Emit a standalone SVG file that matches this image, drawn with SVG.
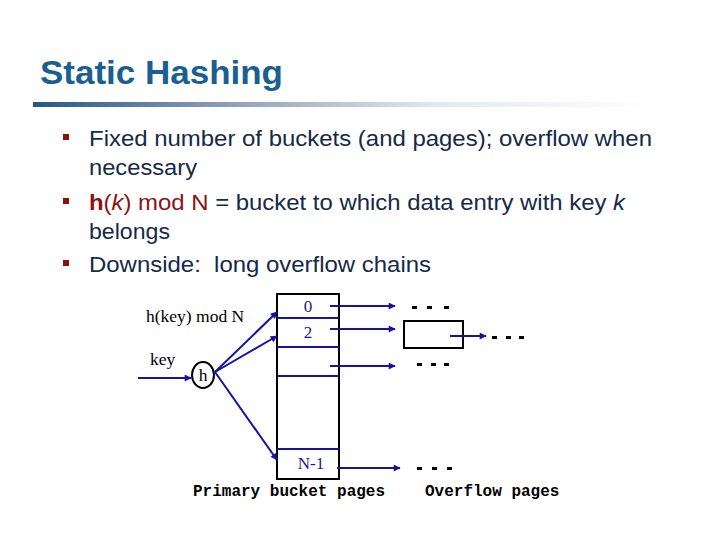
<svg xmlns="http://www.w3.org/2000/svg" width="720" height="540" viewBox="0 0 720 540">
<defs>
<linearGradient id="bar" x1="0" y1="0" x2="1" y2="0">
<stop offset="0" stop-color="#22588a"/>
<stop offset="0.3" stop-color="#8a9cb5"/>
<stop offset="0.65" stop-color="#e4e8ee"/>
<stop offset="1" stop-color="#ffffff"/>
</linearGradient>
<marker id="ah" viewBox="0 0 10 10" refX="9" refY="5" markerWidth="8" markerHeight="7" markerUnits="userSpaceOnUse" orient="auto">
<path d="M0,0 L10,5 L0,10 z" fill="#1414a0"/>
</marker>
<style>
.title{font-family:"Liberation Sans",Arial,sans-serif;font-weight:bold;font-size:34px;fill:#1a5f8f}
.body{font-family:"Liberation Sans",Arial,sans-serif;font-size:22.5px;fill:#15294a}
.red{fill:#8b1414}
.bul{fill:#8b1010}
.ser{font-family:"Liberation Serif","Times New Roman",serif;font-size:17.5px;fill:#000}
.num{font-family:"Liberation Serif","Times New Roman",serif;font-size:17px;fill:#1a1a8c}
.mono{font-family:"Liberation Mono","Courier New",monospace;font-size:16px;font-weight:bold;fill:#000}
.box{fill:none;stroke:#000;stroke-width:2}
.div{stroke:#1414a0;stroke-width:2}
.arr{stroke:#1414a0;stroke-width:2;fill:none;marker-end:url(#ah)}
.dot{fill:#000}
</style>
</defs>
<rect width="720" height="540" fill="#fff"/>
<text class="title" x="40" y="84" textLength="243" lengthAdjust="spacingAndGlyphs">Static Hashing</text>
<rect x="33" y="102" width="620" height="5" fill="url(#bar)"/>
<g id="bullets">
<rect class="bul" x="63" y="134" width="6" height="6"/>
<text class="body" x="89" y="146" textLength="563" lengthAdjust="spacingAndGlyphs">Fixed number of buckets (and pages); overflow when</text>
<text class="body" x="89" y="175" textLength="108" lengthAdjust="spacingAndGlyphs">necessary</text>
<rect class="bul" x="63" y="198" width="6" height="6"/>
<text class="body" x="89" y="210" textLength="536" lengthAdjust="spacingAndGlyphs"><tspan class="red" font-weight="bold">h</tspan><tspan class="red">(</tspan><tspan class="red" font-style="italic">k</tspan><tspan class="red">) mod N</tspan> = bucket to which data entry with key <tspan font-style="italic">k</tspan></text>
<text class="body" x="89" y="239" textLength="81" lengthAdjust="spacingAndGlyphs">belongs</text>
<rect class="bul" x="63" y="260" width="6" height="6"/>
<text class="body" x="89" y="272" xml:space="preserve" textLength="342" lengthAdjust="spacingAndGlyphs">Downside:  long overflow chains</text>
</g>
<g id="primary">
<rect class="box" x="277" y="294" width="62" height="185"/>
<line class="div" x1="277" y1="318" x2="339" y2="318"/>
<line class="div" x1="277" y1="347" x2="339" y2="347"/>
<line class="div" x1="277" y1="376" x2="339" y2="376"/>
<line class="div" x1="277" y1="449" x2="339" y2="449"/>
<text class="num" x="308" y="312" text-anchor="middle">0</text>
<text class="num" x="308" y="338" text-anchor="middle">2</text>
<text class="num" x="311" y="469" text-anchor="middle">N-1</text>
</g>
<g id="hash">
<ellipse class="box" cx="203" cy="375" rx="11" ry="13"/>
<text class="ser" x="203" y="381" text-anchor="middle">h</text>
</g>
<g id="overflow">
<rect class="box" x="404" y="321" width="59" height="27"/>
</g>
<g id="labels">
<text class="ser" x="146" y="322">h(key) mod N</text>
<text class="ser" x="150" y="365">key</text>
<text class="mono" x="193" y="496">Primary bucket pages</text>
<text class="mono" x="425" y="496">Overflow pages</text>
</g>
<g id="connectors">
<line class="arr" x1="138" y1="378" x2="191" y2="378"/>
<line class="arr" x1="215" y1="372" x2="277" y2="312"/>
<line class="arr" x1="215" y1="372" x2="277" y2="336"/>
<line class="arr" x1="215" y1="372" x2="277" y2="460"/>
<line class="arr" x1="330" y1="306" x2="395" y2="306"/>
<line class="arr" x1="330" y1="329" x2="395" y2="329"/>
<line class="arr" x1="330" y1="366" x2="395" y2="366"/>
<line class="arr" x1="337" y1="468" x2="400" y2="468"/>
<line class="arr" x1="450" y1="336" x2="486" y2="336"/>
</g>
<g id="dots">
<rect class="dot" x="412" y="306" width="5" height="3"/>
<rect class="dot" x="427" y="306" width="5" height="3"/>
<rect class="dot" x="444" y="306" width="5" height="3"/>
<rect class="dot" x="417" y="363" width="5" height="3"/>
<rect class="dot" x="431" y="363" width="5" height="3"/>
<rect class="dot" x="444" y="363" width="5" height="3"/>
<rect class="dot" x="492" y="336" width="5" height="3"/>
<rect class="dot" x="506" y="336" width="5" height="3"/>
<rect class="dot" x="519" y="336" width="5" height="3"/>
<rect class="dot" x="417" y="467" width="5" height="3"/>
<rect class="dot" x="432" y="467" width="5" height="3"/>
<rect class="dot" x="447" y="467" width="5" height="3"/>
</g>
</svg>
